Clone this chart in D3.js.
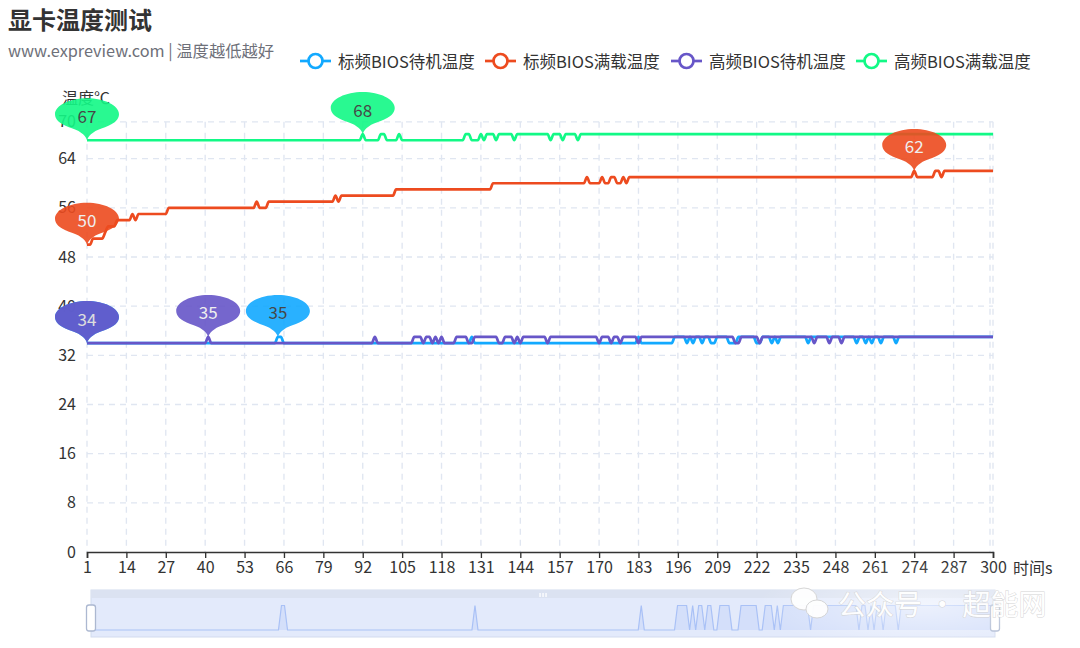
<!DOCTYPE html>
<html><head><meta charset="utf-8">
<script src="https://cdn.jsdelivr.net/npm/d3@7/dist/d3.min.js"></script>
<style>
body{margin:0;background:#fff}
svg{display:block;font-family:"Noto Sans CJK SC","Noto Sans",sans-serif}
</style>
</head><body>
<svg id="chart" width="1080" height="648"></svg>
<script>
// ---------------- DATA ----------------
const titleText = "显卡温度测试";
const subtitleText = "www.expreview.com | 温度越低越好";
const seriesNames = ["标频BIOS待机温度","标频BIOS满载温度","高频BIOS待机温度","高频BIOS满载温度"];
const seriesColors = ["#12a9ff","#ed4b1f","#6756c8","#12f986"];
const times = d3.range(1, 301); // 时间 s (categories 1..300)
const xTickLabels = [1,14,27,40,53,66,79,92,105,118,131,144,157,170,183,196,209,222,235,248,261,274,287,300];
const yTickLabels = [0,8,16,24,32,40,48,56,64,70];

const stdIdle = [
34,34,34,34,34,34,34,34,34,34,34,34,34,34,34,34,34,34,34,34,
34,34,34,34,34,34,34,34,34,34,34,34,34,34,34,34,34,34,34,34,
34,34,34,34,34,34,34,34,34,34,34,34,34,34,34,34,34,34,34,34,
34,34,34,35,35,34,34,34,34,34,34,34,34,34,34,34,34,34,34,34,
34,34,34,34,34,34,34,34,34,34,34,34,34,34,34,34,34,34,34,34,
34,34,34,34,34,34,34,34,34,34,34,34,34,34,34,34,34,34,34,34,
34,34,34,34,34,34,34,35,34,34,34,34,34,34,34,34,34,34,34,34,
34,34,34,34,34,34,34,34,34,34,34,34,34,34,34,34,34,34,34,34,
34,34,34,34,34,34,34,34,34,34,34,34,34,34,34,34,34,34,34,34,
34,34,35,34,34,34,34,34,34,34,34,34,34,34,35,35,35,35,34,35,
34,35,35,34,35,35,34,34,35,35,35,35,34,34,34,35,35,35,35,35,
35,34,34,35,35,35,34,35,34,35,35,35,35,35,35,35,35,35,34,35,
35,35,35,35,35,35,35,35,35,35,35,35,35,35,34,35,35,34,35,34,
35,35,34,35,35,35,35,34,35,35,35,35,35,35,35,35,35,35,35,35,
35,35,35,35,35,35,35,35,35,35,35,35,35,35,35,35,35,35,35,35];

const stdLoad = [
50,50,51,51,51,51,52,53,53,53,54,54,54,54,54,55,54,55,55,55,
55,55,55,55,55,55,55,56,56,56,56,56,56,56,56,56,56,56,56,56,
56,56,56,56,56,56,56,56,56,56,56,56,56,56,56,56,57,56,56,56,
57,57,57,57,57,57,57,57,57,57,57,57,57,57,57,57,57,57,57,57,
57,57,58,57,58,58,58,58,58,58,58,58,58,58,58,58,58,58,58,58,
58,58,59,59,59,59,59,59,59,59,59,59,59,59,59,59,59,59,59,59,
59,59,59,59,59,59,59,59,59,59,59,59,59,59,60,60,60,60,60,60,
60,60,60,60,60,60,60,60,60,60,60,60,60,60,60,60,60,60,60,60,
60,60,60,60,60,61,60,60,60,60,61,60,60,61,61,60,60,61,60,61,
61,61,61,61,61,61,61,61,61,61,61,61,61,61,61,61,61,61,61,61,
61,61,61,61,61,61,61,61,61,61,61,61,61,61,61,61,61,61,61,61,
61,61,61,61,61,61,61,61,61,61,61,61,61,61,61,61,61,61,61,61,
61,61,61,61,61,61,61,61,61,61,61,61,61,61,61,61,61,61,61,61,
61,61,61,61,61,61,61,61,61,61,61,61,61,62,61,61,61,61,61,61,
62,62,61,62,62,62,62,62,62,62,62,62,62,62,62,62,62,62,62,62];

const hiIdle = [
34,34,34,34,34,34,34,34,34,34,34,34,34,34,34,34,34,34,34,34,
34,34,34,34,34,34,34,34,34,34,34,34,34,34,34,34,34,34,34,34,
35,34,34,34,34,34,34,34,34,34,34,34,34,34,34,34,34,34,34,34,
34,34,34,34,34,34,34,34,34,34,34,34,34,34,34,34,34,34,34,34,
34,34,34,34,34,34,34,34,34,34,34,34,34,34,34,35,34,34,34,34,
34,34,34,34,34,34,34,34,35,35,35,34,35,35,34,35,34,35,34,34,
34,34,35,35,35,35,34,34,35,35,35,35,35,35,35,35,34,34,35,35,
35,34,35,34,35,35,35,35,35,35,35,35,34,35,35,35,35,35,35,35,
35,35,35,35,35,35,35,35,35,34,35,35,35,34,35,35,34,35,35,35,
35,35,34,35,35,35,35,35,35,35,35,35,35,35,35,35,35,35,35,35,
35,35,35,35,35,35,35,35,35,35,35,35,35,35,34,34,35,35,35,35,
35,35,34,35,35,35,35,35,35,35,35,35,35,35,35,35,35,35,35,35,
34,35,35,35,35,34,35,35,35,34,35,35,35,35,35,35,35,35,35,35,
35,35,35,35,35,35,35,35,35,35,35,35,35,35,35,35,35,35,35,35,
35,35,35,35,35,35,35,35,35,35,35,35,35,35,35,35,35,35,35,35];

const hiLoad = [
67,67,67,67,67,67,67,67,67,67,67,67,67,67,67,67,67,67,67,67,
67,67,67,67,67,67,67,67,67,67,67,67,67,67,67,67,67,67,67,67,
67,67,67,67,67,67,67,67,67,67,67,67,67,67,67,67,67,67,67,67,
67,67,67,67,67,67,67,67,67,67,67,67,67,67,67,67,67,67,67,67,
67,67,67,67,67,67,67,67,67,67,67,68,67,67,67,67,67,68,68,67,
67,67,67,68,67,67,67,67,67,67,67,67,67,67,67,67,67,67,67,67,
67,67,67,67,67,68,68,67,67,67,68,67,68,68,68,67,68,68,68,68,
68,67,68,68,68,68,68,68,68,68,68,68,68,67,68,68,68,67,68,68,
68,68,67,68,68,68,68,68,68,68,68,68,68,68,68,68,68,68,68,68,
68,68,68,68,68,68,68,68,68,68,68,68,68,68,68,68,68,68,68,68,
68,68,68,68,68,68,68,68,68,68,68,68,68,68,68,68,68,68,68,68,
68,68,68,68,68,68,68,68,68,68,68,68,68,68,68,68,68,68,68,68,
68,68,68,68,68,68,68,68,68,68,68,68,68,68,68,68,68,68,68,68,
68,68,68,68,68,68,68,68,68,68,68,68,68,68,68,68,68,68,68,68,
68,68,68,68,68,68,68,68,68,68,68,68,68,68,68,68,68,68,68,68];

const seriesValues = [stdIdle, stdLoad, hiIdle, hiLoad];

// ---------------- DRAW ----------------
(function () {
const svg = d3.select("#chart");
const gLeft = 87, gRight = 993, gTop = 121.8, gBottom = 552;
const x = d3.scalePoint().domain(times).range([gLeft, gRight]);
const y = d3.scaleLinear().domain([0, 70]).range([gBottom, gTop]);
const gridColor = "#e0e6f1";
const textColor = "#333";
const font = '"Noto Sans CJK SC",sans-serif';

// title
svg.append("text").attr("x", 8).attr("y", 29).attr("font-size", 24).attr("font-weight", "bold")
  .attr("fill", "#333").text(titleText);
svg.append("text").attr("x", 8).attr("y", 57).attr("font-size", 16.3).attr("fill", "#6e7079").text(subtitleText);

// grid lines
svg.append("g").selectAll("line").data(xTickLabels).join("line")
  .attr("x1", d => x(d)).attr("x2", d => x(d)).attr("y1", gTop).attr("y2", gBottom)
  .attr("stroke", gridColor).attr("stroke-width", 1.35).attr("stroke-dasharray", "6,5");
svg.append("line").attr("x1", gRight - 3).attr("x2", gRight - 3).attr("y1", gTop).attr("y2", gBottom)
  .attr("stroke", gridColor).attr("stroke-width", 1.35).attr("stroke-dasharray", "6,5");
svg.append("g").selectAll("line").data(yTickLabels.filter(d => d > 0)).join("line")
  .attr("x1", gLeft).attr("x2", gRight).attr("y1", d => y(d)).attr("y2", d => y(d))
  .attr("stroke", gridColor).attr("stroke-width", 1.35).attr("stroke-dasharray", "6,5");

// x axis
const xAxis = d3.axisBottom(x).tickValues(xTickLabels).tickSize(6).tickPadding(4);
const gx = svg.append("g").attr("transform", `translate(0,${gBottom})`).call(xAxis);
gx.select(".domain").attr("stroke", "#333").attr("stroke-width", 1.6);
gx.selectAll(".tick line").attr("stroke", "#333").attr("stroke-width", 1.35);
gx.selectAll(".tick text").attr("font-size", 16).attr("fill", textColor).attr("font-family", font);
svg.append("text").attr("x", 1013).attr("y", 574).attr("font-size", 16).attr("fill", textColor).text("时间s");

// y axis
const yAxis = d3.axisLeft(y).tickValues(yTickLabels).tickSize(0).tickPadding(11);
const gy = svg.append("g").attr("transform", `translate(${gLeft},0)`).call(yAxis);
gy.select(".domain").remove();
gy.selectAll(".tick text").attr("font-size", 16).attr("fill", textColor).attr("font-family", font);
svg.append("text").attr("x", 62).attr("y", 104).attr("font-size", 16).attr("fill", textColor).text("温度℃");

// lines
const line = d3.line().x((d, i) => x(times[i])).y(d => y(d)).curve(d3.curveMonotoneX);
[0, 1, 2, 3].forEach(s => {
  svg.append("path").datum(seriesValues[s]).attr("d", line)
    .attr("fill", "none").attr("stroke", seriesColors[s]).attr("stroke-width", 2.7)
    .attr("stroke-linejoin", "round");
});

// mark points (pins) for max & min
const pinD = "M0,0 C-2,-6 -8,-10 -18,-13 C-28,-17 -32,-21 -32,-26 C-32,-35 -17,-42 0,-42 " +
             "C17,-42 32,-35 32,-26 C32,-21 28,-17 18,-13 C8,-10 2,-6 0,0 Z";
const pinTextColors = ["#333", "#eee", "#eee", "#333"];
const pins = [];
seriesValues.forEach((vals, s) => {
  const mx = d3.max(vals), mn = d3.min(vals);
  pins.push({ s, i: vals.indexOf(mx), v: mx });
  pins.push({ s, i: vals.indexOf(mn), v: mn });
});
const pg = svg.append("g");
pins.forEach(p => {
  const g = pg.append("g").attr("transform", `translate(${x(times[p.i])},${y(p.v)})`).attr("opacity", 0.9);
  g.append("path").attr("d", pinD).attr("fill", seriesColors[p.s]);
  g.append("text").attr("x", 0).attr("y", -25).attr("text-anchor", "middle")
    .attr("dominant-baseline", "central").attr("font-size", 17).attr("fill", pinTextColors[p.s]).text(p.v);
});

// legend
const legendX = [300, 485, 671, 856];
const lg = svg.append("g");
seriesNames.forEach((n, s) => {
  const lx = legendX[s];
  lg.append("line").attr("x1", lx).attr("x2", lx + 31).attr("y1", 61).attr("y2", 61)
    .attr("stroke", seriesColors[s]).attr("stroke-width", 2.7);
  lg.append("circle").attr("cx", lx + 15.5).attr("cy", 61).attr("r", 7)
    .attr("fill", "#fff").attr("stroke", seriesColors[s]).attr("stroke-width", 2.7);
  lg.append("text").attr("x", lx + 38).attr("y", 61).attr("dominant-baseline", "central")
    .attr("font-size", 16.5).attr("fill", "#333").text(n);
});

// data zoom slider
const sx0 = 91, sx1 = 995, sTop = 590, sMid = 598, sBot = 637;
const xs = d3.scalePoint().domain(times).range([sx0, sx1]);
const shadowVals = seriesValues[0];
const ys = d3.scaleLinear().domain([d3.min(shadowVals), d3.max(shadowVals)]).range([630, 605.5]);
svg.append("rect").attr("x", sx0).attr("y", sTop).attr("width", sx1 - sx0).attr("height", sBot - sTop)
  .attr("fill", "#e3eafb").attr("stroke", "#d2dbee").attr("stroke-width", 1);
svg.append("rect").attr("x", sx0).attr("y", sTop).attr("width", sx1 - sx0).attr("height", sMid - sTop)
  .attr("fill", "#dbe2f1");
const area = d3.area().x((d, i) => xs(times[i])).y0(630).y1(d => ys(d));
svg.append("path").datum(shadowVals).attr("d", area).attr("fill", "rgba(143,176,247,0.18)");
svg.append("path").datum(shadowVals).attr("d", d3.line().x((d, i) => xs(times[i])).y(d => ys(d)))
  .attr("fill", "none").attr("stroke", "#a9c1f6").attr("stroke-width", 1.2);
[-3, 0, 3].forEach(dx => svg.append("rect").attr("x", 543 + dx - 0.6).attr("y", 593).attr("width", 1.3).attr("height", 4).attr("fill", "#fff"));
[sx0, sx1].forEach(hx => {
  svg.append("rect").attr("x", hx - 4.5).attr("y", 605).attr("width", 9).attr("height", 26).attr("rx", 2.5)
    .attr("fill", "#fff").attr("stroke", "#acb8d1").attr("stroke-width", 1.3);
});

// watermark (white glow + text)
const defs = svg.append("defs");
const rg = defs.append("radialGradient").attr("id", "glow");
rg.append("stop").attr("offset", "0%").attr("stop-color", "#fff").attr("stop-opacity", 0.55);
rg.append("stop").attr("offset", "100%").attr("stop-color", "#fff").attr("stop-opacity", 0);
svg.append("ellipse").attr("cx", 925).attr("cy", 606).attr("rx", 170).attr("ry", 45).attr("fill", "url(#glow)");
const wm = svg.append("g").attr("opacity", 0.95);
wm.append("ellipse").attr("cx", 804).attr("cy", 599).attr("rx", 13).attr("ry", 11).attr("fill", "#fff").attr("stroke", "#d5d5d5");
wm.append("ellipse").attr("cx", 817).attr("cy", 609).attr("rx", 11).attr("ry", 9).attr("fill", "#fff").attr("stroke", "#d5d5d5");
wm.append("text").attr("x", 838).attr("y", 615).attr("font-size", 28).attr("fill", "#fff")
  .attr("stroke", "#d3d3d3").attr("stroke-width", 0.9).attr("paint-order", "stroke").text("公众号 · 超能网");
})();
</script>
</body></html>
